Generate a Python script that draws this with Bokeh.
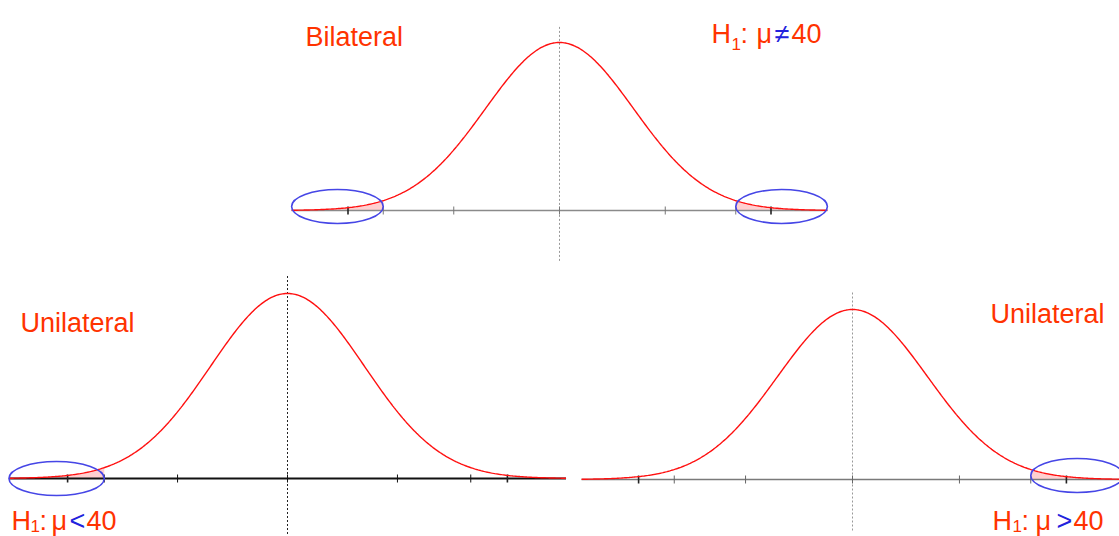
import numpy as np
from bokeh.plotting import figure
from bokeh.layouts import column, row
from bokeh.core.properties import value
from bokeh.embed import file_html
from bokeh.resources import INLINE

# ---------------- data ----------------
MU0 = 40.0                      # hypothesised mean
SIGMA = 1.05                    # spread of the sampling distribution
AXIS_LIMITS = [36.2, 43.8]      # drawn extent of each horizontal axis
TICKS = [37.0, 37.5, 38.5, 40.0, 41.5, 42.5, 43.0]
DARK_TICKS = [37.0, 43.0]
CRIT_LOW = 37.5                 # lower critical value
CRIT_HIGH = 42.5                # upper critical value

TITLES = ["Bilateral", "Unilateral", "Unilateral"]
H1_OPERATORS = ["≠", "<", ">"]
H1_VALUE = "40"
TAILS = [["low", "high"], ["low"], ["high"]]

# ---------------- style ----------------
FONT = value("Liberation Sans")
TXT_RED = "#FF3300"
OP_BLUE = "#2222DD"
CURVE_RED = "#FF1010"
ELL_BLUE = "#4646E6"
TAIL_FILL = "#FFD0D0"


def pdf(x):
    x = np.asarray(x, dtype=float)
    return np.exp(-0.5 * ((x - MU0) / SIGMA) ** 2) / (SIGMA * np.sqrt(2 * np.pi))


def panel(width, height, ppu_x, center_px, base_px, peak_px, tails,
          axis_color, axis_width, dot_color, tick_color, ell_lift,
          title, title_pos, op, h1_pos, h1_base, sub_base):
    peak = float(pdf(MU0))
    ppu_y = (base_px - peak_px) / peak
    x0 = MU0 - center_px / ppu_x
    x1 = x0 + width / ppu_x
    y1 = base_px / ppu_y
    y0 = y1 - height / ppu_y

    def fx(px):
        return x0 + px / ppu_x

    def fy(py):
        return y1 - py / ppu_y

    p = figure(width=width, height=height, x_range=(x0, x1), y_range=(y0, y1),
               output_backend="svg", toolbar_location=None,
               x_axis_location=None, y_axis_location=None,
               min_border=0, min_border_left=0, min_border_right=0,
               min_border_top=0, min_border_bottom=0)
    p.grid.visible = False
    p.outline_line_color = None
    p.background_fill_color = "white"
    p.border_fill_color = "white"

    # shaded rejection tails
    for t in tails:
        if t == "low":
            xs = np.linspace(AXIS_LIMITS[0], CRIT_LOW, 60)
        else:
            xs = np.linspace(CRIT_HIGH, AXIS_LIMITS[1], 60)
        p.varea(x=xs, y1=np.zeros_like(xs), y2=pdf(xs), fill_color=TAIL_FILL)

    # centre dotted line
    p.segment(x0=[MU0], y0=[-0.3 * peak], x1=[MU0], y1=[1.1 * peak],
              line_color=dot_color, line_dash="2 2", line_width=1)

    # axis + ticks
    p.segment(x0=[AXIS_LIMITS[0]], y0=[0], x1=[AXIS_LIMITS[1]], y1=[0],
              line_color=axis_color, line_width=axis_width)
    light = [t for t in TICKS if t not in DARK_TICKS]
    p.scatter(x=light, y=[0] * len(light), marker="dash", angle=np.pi / 2,
              size=8, line_color=tick_color, line_width=1)
    p.scatter(x=DARK_TICKS, y=[0] * len(DARK_TICKS), marker="dash",
              angle=np.pi / 2, size=8, line_color="#222222", line_width=1.6)

    # normal curve
    xs = np.linspace(AXIS_LIMITS[0], AXIS_LIMITS[1], 400)
    p.line(xs, pdf(xs), line_color=CURVE_RED, line_width=1.4)

    # ellipses around the tails
    for t in tails:
        if t == "low":
            a, b = AXIS_LIMITS[0], CRIT_LOW
        else:
            a, b = CRIT_HIGH, AXIS_LIMITS[1]
        p.ellipse(x=[(a + b) / 2], y=[ell_lift / ppu_y], width=[b - a],
                  height=[34], height_units="screen", fill_color=None,
                  line_color=ELL_BLUE, line_width=1.6)

    # title
    p.text(x=[fx(title_pos[0])], y=[fy(title_pos[1])], text=[title],
           text_font=FONT, text_font_size="27px", text_color=TXT_RED,
           text_align="left", text_baseline="alphabetic")

    # H1 label pieces
    hx = h1_pos
    pieces = [("H", hx[0], h1_base, "27px", TXT_RED),
              ("1", hx[1], sub_base, "17px", TXT_RED),
              (":", hx[2], h1_base, "27px", TXT_RED),
              ("μ", hx[3], h1_base, "27px", TXT_RED),
              (op, hx[4], h1_base, "27px", OP_BLUE),
              (H1_VALUE, hx[5], h1_base, "27px", TXT_RED)]
    for txt, px, py, fs, col in pieces:
        p.text(x=[fx(px)], y=[fy(py)], text=[txt], text_font=FONT,
               text_font_size=fs, text_color=col, text_align="left",
               text_baseline="alphabetic")
    return p


top = panel(width=1119, height=268, ppu_x=70.5, center_px=559, base_px=210,
            peak_px=42, tails=TAILS[0], axis_color="#8A8A8A", axis_width=1.5,
            dot_color="#999999", tick_color="#777777", ell_lift=4,
            title=TITLES[0], title_pos=(305, 36), op=H1_OPERATORS[0],
            h1_pos=[711, 731, 740, 756, 774, 791], h1_base=33, sub_base=43)

left = panel(width=575, height=268, ppu_x=73.3, center_px=287, base_px=210,
             peak_px=25, tails=TAILS[1], axis_color="#111111", axis_width=2,
             dot_color="#222222", tick_color="#111111", ell_lift=0,
             title=TITLES[1], title_pos=(20, 54), op=H1_OPERATORS[1],
             h1_pos=[11, 30, 39, 51, 69, 86], h1_base=252, sub_base=257)

right = panel(width=544, height=268, ppu_x=71.3, center_px=277, base_px=211,
              peak_px=41, tails=TAILS[2], axis_color="#7A7A7A", axis_width=1.5,
              dot_color="#999999", tick_color="#666666", ell_lift=4,
              title=TITLES[2], title_pos=(415, 45), op=H1_OPERATORS[2],
              h1_pos=[417, 437, 446, 460, 481, 498], h1_base=252, sub_base=257)

layout = column(top, row(left, right, spacing=0), spacing=0)

open("out.html", "w").write(file_html(layout, INLINE))
